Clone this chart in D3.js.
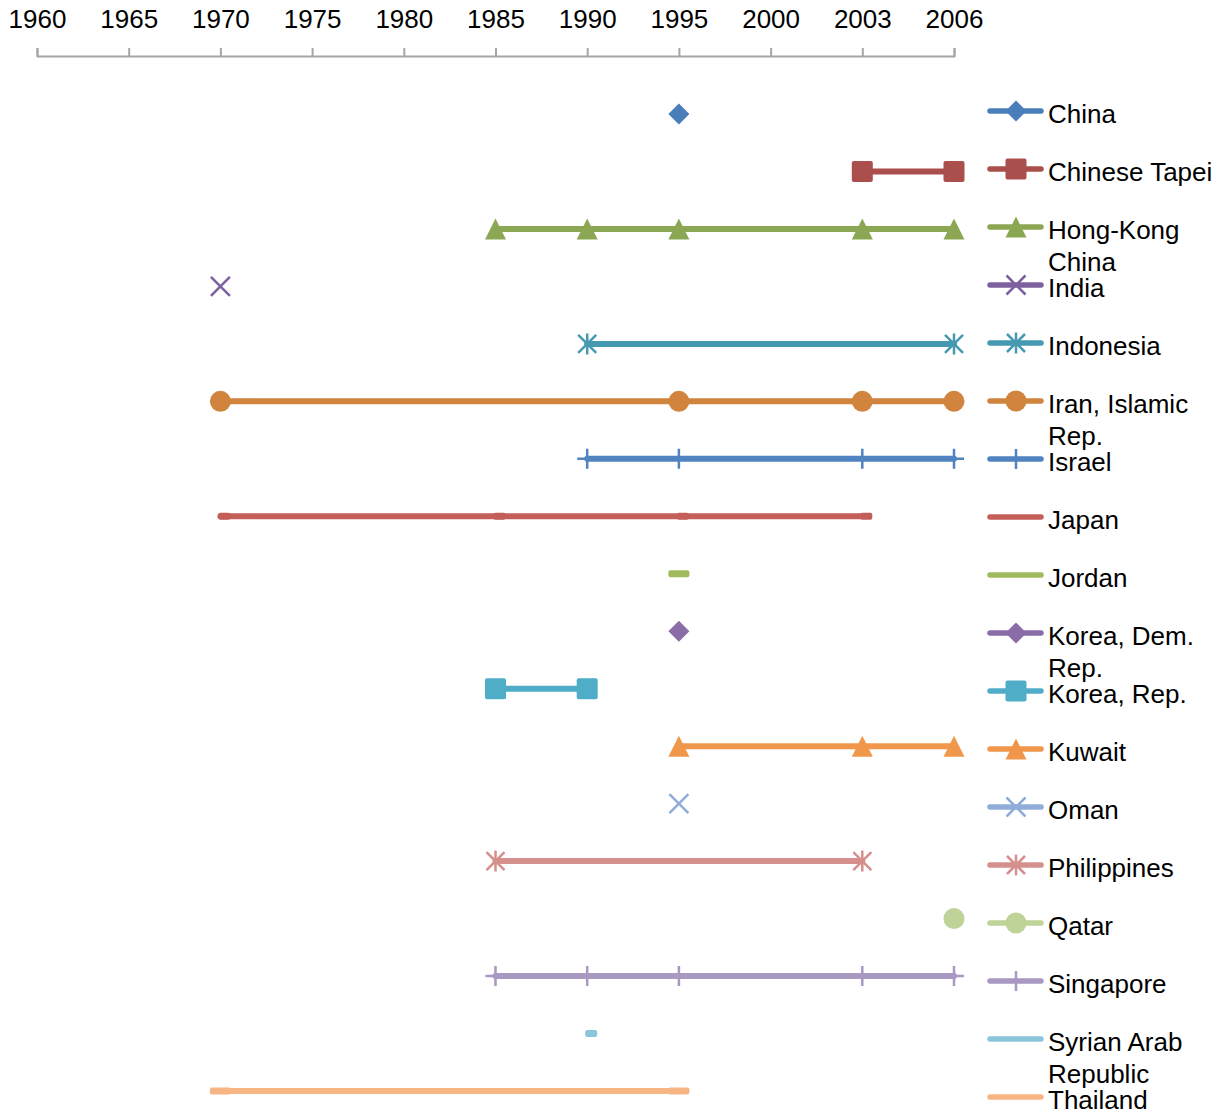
<!DOCTYPE html>
<html>
<head>
<meta charset="utf-8">
<script src="https://cdn.jsdelivr.net/npm/d3@7"></script>
<style>
  html, body { margin: 0; padding: 0; background: #fff; }
  svg { display: block; }
  text { font-family: "Liberation Sans", Arial, sans-serif; font-size: 26px; fill: #000; }
</style>
</head>
<body>
<svg id="chart" width="1228" height="1114"></svg>
<script>
// Survey years shown along the top axis (evenly spaced categories)
const tickLabels = ["1960", "1965", "1970", "1975", "1980", "1985", "1990", "1995", "2000", "2003", "2006"];

// Economies, one row each
const countries = [
  "China", "Chinese Tapei", "Hong-Kong China", "India", "Indonesia",
  "Iran, Islamic Rep.", "Israel", "Japan", "Jordan", "Korea, Dem. Rep.",
  "Korea, Rep.", "Kuwait", "Oman", "Philippines", "Qatar", "Singapore",
  "Syrian Arab Republic", "Thailand"
];

// Years with an observation, per economy (same order as above)
const china = ["1995"];
const chineseTapei = ["2003", "2006"];
const hongKong = ["1985", "1990", "1995", "2003", "2006"];
const india = ["1970"];
const indonesia = ["1990", "2006"];
const iran = ["1970", "1995", "2003", "2006"];
const israel = ["1990", "1995", "2003", "2006"];
const japan = ["1970", "1985", "1995", "2003"];
const jordan = ["1995"];
const koreaDem = ["1995"];
const koreaRep = ["1985", "1990"];
const kuwait = ["1995", "2003", "2006"];
const oman = ["1995"];
const philippines = ["1985", "2003"];
const qatar = ["2006"];
const singapore = ["1985", "1990", "1995", "2003", "2006"];
const syria = ["1990"];
const thailand = ["1970", "1995"];

const observations = [china, chineseTapei, hongKong, india, indonesia, iran, israel, japan,
  jordan, koreaDem, koreaRep, kuwait, oman, philippines, qatar, singapore, syria, thailand];

const colors = [
  "#4A7EBB", "#AA4F4C", "#8BA753", "#7D60A0", "#4599B0", "#D0843E",
  "#5083C0", "#C45E58", "#A0BA5E", "#8A6CA7", "#50ADC8", "#F0974C",
  "#8FADD8", "#D58F8C", "#BDD398", "#A898C2", "#8BC5DB", "#F7B584"
];

const markerCycle = ["diamond", "square", "triangle", "x", "star", "circle", "plus", "dashShort", "dashLong"];

const svg = d3.select("#chart");

const x = d3.scalePoint().domain(tickLabels).range([37, 954]);
const y = d3.scalePoint().domain(countries).range([114, 1091]);
const legendY = d3.scalePoint().domain(countries).range([111, 1097]);

// Top category axis
const axisG = svg.append("g")
  .attr("transform", "translate(0,56)")
  .call(d3.axisTop(x).tickSize(8).tickSizeOuter(8).tickPadding(20));
axisG.select(".domain").attr("stroke", "#A6A6A6").attr("stroke-width", 2);
axisG.selectAll(".tick line").attr("stroke", "#A6A6A6").attr("stroke-width", 2);
axisG.selectAll(".tick text")
  .attr("font-family", "'Liberation Sans', Arial, sans-serif")
  .attr("font-size", 26)
  .attr("fill", "#000");

function drawMarker(g, type, cx, cy, color) {
  const s = 10.5;
  switch (type) {
    case "diamond":
      g.append("path").attr("d", `M${cx},${cy - s}L${cx + s},${cy}L${cx},${cy + s}L${cx - s},${cy}Z`).attr("fill", color);
      break;
    case "square":
      g.append("rect").attr("x", cx - s).attr("y", cy - s).attr("width", 2 * s).attr("height", 2 * s)
        .attr("rx", 2).attr("fill", color);
      break;
    case "triangle":
      g.append("path").attr("d", `M${cx},${cy - s}L${cx + s},${cy + s}L${cx - s},${cy + s}Z`).attr("fill", color);
      break;
    case "x":
      g.append("path").attr("d", `M${cx - 9.5},${cy - 9.5}L${cx + 9.5},${cy + 9.5}M${cx + 9.5},${cy - 9.5}L${cx - 9.5},${cy + 9.5}`)
        .attr("stroke", color).attr("stroke-width", 2.5).attr("fill", "none");
      break;
    case "star":
      g.append("path").attr("d", `M${cx - 9},${cy - 9}L${cx + 9},${cy + 9}M${cx + 9},${cy - 9}L${cx - 9},${cy + 9}M${cx},${cy - 10.5}L${cx},${cy + 10.5}`)
        .attr("stroke", color).attr("stroke-width", 2.5).attr("fill", "none");
      break;
    case "circle":
      g.append("circle").attr("cx", cx).attr("cy", cy).attr("r", 10.5).attr("fill", color);
      break;
    case "plus":
      g.append("path").attr("d", `M${cx - 10},${cy}L${cx + 10},${cy}M${cx},${cy - 10}L${cx},${cy + 10}`)
        .attr("stroke", color).attr("stroke-width", 2.5).attr("fill", "none");
      break;
    case "dashShort":
      g.append("rect").attr("x", cx - 2).attr("y", cy - 3.5).attr("width", 12).attr("height", 7)
        .attr("rx", 2).attr("fill", color);
      break;
    case "dashLong":
      g.append("rect").attr("x", cx - 10.5).attr("y", cy - 3.5).attr("width", 21).attr("height", 7)
        .attr("rx", 2).attr("fill", color);
      break;
  }
}

const line = d3.line().x(d => x(d[0])).y(d => y(d[1]));

// Series rows
countries.forEach((name, i) => {
  const g = svg.append("g").attr("class", "series");
  const pts = observations[i].map(yr => [yr, name]);
  const color = colors[i];
  if (pts.length > 1) {
    g.append("path").attr("d", line(pts))
      .attr("fill", "none").attr("stroke", color).attr("stroke-width", 6).attr("stroke-linecap", "round");
  }
  const type = markerCycle[i % markerCycle.length];
  pts.forEach(p => drawMarker(g, type, x(p[0]), y(p[1]), color));
});

// Legend at right, with wrapped labels
function wrapLabel(textSel, label, maxWidth) {
  const words = label.split(" ");
  let tspan = textSel.append("tspan").attr("x", textSel.attr("x")).attr("dy", 0);
  let current = [];
  words.forEach(w => {
    current.push(w);
    tspan.text(current.join(" "));
    if (tspan.node().getComputedTextLength() > maxWidth && current.length > 1) {
      current.pop();
      tspan.text(current.join(" "));
      current = [w];
      tspan = textSel.append("tspan").attr("x", textSel.attr("x")).attr("dy", 32).text(w);
    }
  });
}

countries.forEach((name, i) => {
  const ly = legendY(name);
  const g = svg.append("g").attr("class", "legend-item");
  const color = colors[i];
  g.append("line").attr("x1", 990).attr("x2", 1041).attr("y1", ly).attr("y2", ly)
    .attr("stroke", color).attr("stroke-width", 5.5).attr("stroke-linecap", "round");
  const type = markerCycle[i % markerCycle.length];
  drawMarker(g, type === "dashShort" || type === "dashLong" ? "none" : type, 1016, ly, color);
  const t = g.append("text").attr("x", 1048).attr("y", ly + 12);
  wrapLabel(t, name, 180);
});
</script>
</body>
</html>
